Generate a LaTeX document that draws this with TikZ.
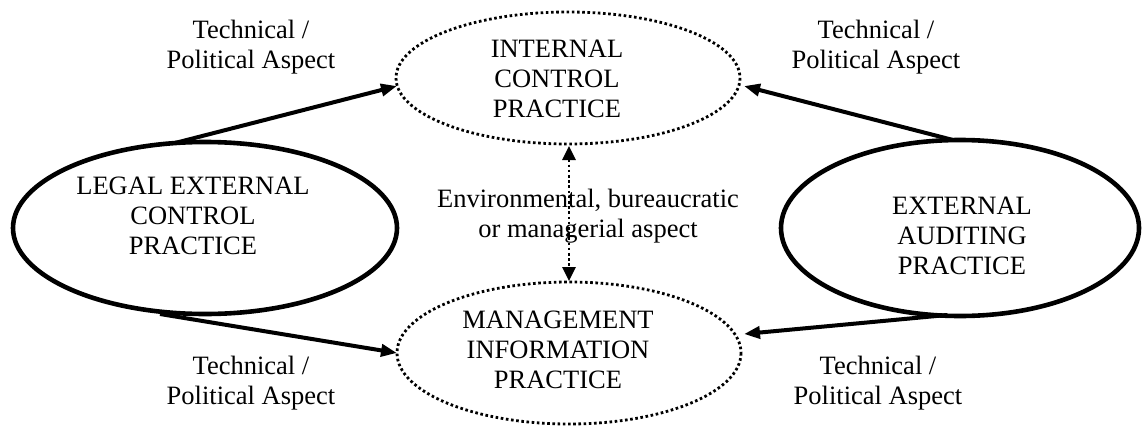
\documentclass[tikz,border=0pt]{standalone}
\usepackage{fontspec}
\setmainfont{Liberation Serif}
\usetikzlibrary{shapes.geometric,arrows.meta}
\begin{document}
\begin{tikzpicture}[x=1pt,y=-1pt,
  txt/.style={align=center,font=\fontsize{26.5}{29.8}\selectfont,inner sep=0pt},
  dotell/.style={draw,line width=2.8pt,dash pattern=on 2.6pt off 2.6pt},
  arr/.style={line width=4pt,-{Triangle[length=16pt,width=12pt]}},
  dotarr/.style={line width=2.8pt,dash pattern=on 2.6pt off 2.6pt,{Triangle[length=14pt,width=13pt]}-{Triangle[length=14pt,width=13pt]}}
]
\useasboundingbox (0,0) rectangle (1142,428);
% ellipses
\draw[dotell] (568,78) ellipse [x radius=172, y radius=66];
\draw[dotell] (569,353) ellipse [x radius=172, y radius=71];
\draw[line width=4.6pt] (205,228) ellipse [x radius=192, y radius=86];
\draw[line width=4.6pt] (960,228) ellipse [x radius=179, y radius=88];
% anchor coordinates
\coordinate (icL) at (397,86);
\coordinate (icR) at (744,86);
\coordinate (icB) at (569,146);
\coordinate (miL) at (397,353);
\coordinate (miR) at (744,334);
\coordinate (miT) at (569,281);
\coordinate (leT) at (175,143);
\coordinate (leB) at (160,314);
\coordinate (eaT) at (953,140);
\coordinate (eaB) at (947,315);
% texts
\node[txt] (ic) at (557,79) {INTERNAL\\CONTROL\\PRACTICE};
\node[txt] (mi) at (558,350) {MANAGEMENT\\INFORMATION\\PRACTICE};
\node[txt] (le) at (193,216) {LEGAL EXTERNAL\\CONTROL\\PRACTICE};
\node[txt] (ea) at (962,236) {EXTERNAL\\AUDITING\\PRACTICE};
\node[txt] (t1) at (251,47) {Technical /\\Political Aspect};
\node[txt] (t2) at (876,47) {Technical /\\Political Aspect};
\node[txt] (t3) at (251,383) {Technical /\\Political Aspect};
\node[txt] (t4) at (878,383) {Technical /\\Political Aspect};
\node[txt] (env) at (588,216) {Environmental, bureaucratic\\or managerial aspect};
% arrows
\draw[arr] (leT) -- (icL);
\draw[arr] (leB) -- (miL);
\draw[arr] (eaT) -- (icR);
\draw[arr] (eaB) -- (miR);
\draw[dotarr] (icB) -- (miT);
\end{tikzpicture}
\end{document}
